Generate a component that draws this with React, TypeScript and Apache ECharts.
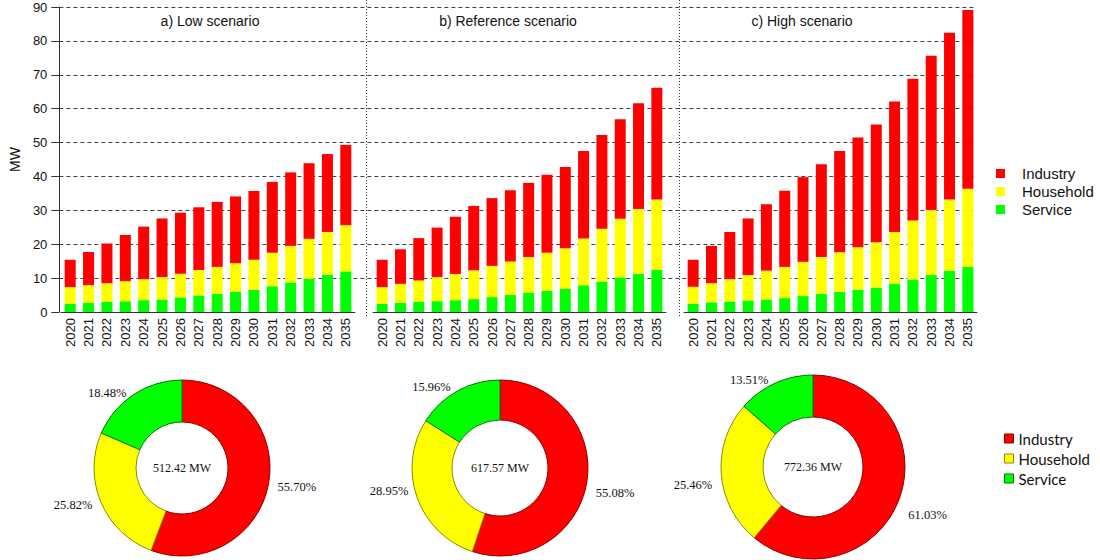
import React, { useEffect, useRef } from "react";
import * as echarts from "echarts";

const years = ["2020","2021","2022","2023","2024","2025","2026","2027","2028","2029","2030","2031","2032","2033","2034","2035"];

const lowService = [2.45,2.75,3.0,3.2,3.5,3.7,4.3,4.9,5.4,6.0,6.6,7.6,8.7,9.8,11.0,12.0];
const lowHousehold = [4.9,5.15,5.5,5.9,6.2,6.6,7.0,7.5,7.9,8.4,8.8,9.9,10.8,11.8,12.6,13.6];
const lowIndustry = [8.05,9.8,11.7,13.6,15.5,17.3,18.0,18.5,19.2,19.7,20.3,20.9,21.7,22.3,23.0,23.7];

const refService = [2.45,2.75,3.0,3.2,3.5,3.8,4.4,5.0,5.6,6.3,6.9,7.9,9.0,10.2,11.3,12.4];
const refHousehold = [4.9,5.55,6.3,7.1,7.7,8.5,9.2,9.9,10.6,11.2,11.9,13.8,15.6,17.3,19.1,20.8];
const refIndustry = [8.05,10.2,12.5,14.6,16.9,19.0,20.0,21.0,21.9,23.0,24.0,25.8,27.6,29.4,31.2,33.0];

const highService = [2.45,2.85,3.1,3.4,3.7,4.1,4.7,5.3,5.9,6.6,7.2,8.4,9.6,10.9,12.2,13.3];
const highHousehold = [5.0,5.65,6.6,7.5,8.5,9.2,10.1,10.9,11.7,12.5,13.4,15.2,17.4,19.2,21.0,23.1];
const highIndustry = [7.95,11.0,13.9,16.7,19.6,22.5,25.0,27.4,29.9,32.4,34.7,38.5,41.8,45.5,49.2,52.7];

const sectors = ["Industry", "Household", "Service"];
const pieLow = [55.70, 25.82, 18.48];
const pieRef = [55.08, 28.95, 15.96];
const pieHigh = [61.03, 25.46, 13.51];
const pieTotals = ["512.42 MW", "617.57 MW", "772.36 MW"];
const panelTitles = ["a) Low scenario", "b) Reference scenario", "c) High scenario"];

const COLORS: Record<string, string> = { Industry: "#ff0000", Household: "#ffff00", Service: "#00ff00" };
const BORDERS: Record<string, string> = { Industry: "#8a0000", Household: "#8a8a00", Service: "#007a00" };

const SANS = "Liberation Sans";
const SERIF = "Liberation Serif";

export default function App() {
  const ref = useRef<HTMLDivElement>(null);
  useEffect(() => {
    if (!ref.current) return;
    const chart = echarts.init(ref.current, undefined, { renderer: "svg" });

    const panels = [
      { s: lowService, h: lowHousehold, i: lowIndustry, left: 61, width: 294, tx: 210 },
      { s: refService, h: refHousehold, i: refIndustry, left: 373, width: 293, tx: 508 },
      { s: highService, h: highHousehold, i: highIndustry, left: 684, width: 293, tx: 802 },
    ];
    const pies = [
      { v: pieLow, cx: 182, cy: 468, r: [46, 88], dy: [3, 1, 2] },
      { v: pieRef, cx: 500, cy: 468, r: [48, 88], dy: [10, -8, 0] },
      { v: pieHigh, cx: 813, cy: 467, r: [50, 92], dy: [15, 11, 0] },
    ];

    const grids: any[] = [{ left: 52, top: 7, width: 924, height: 305 }];
    const xAxes: any[] = [{ type: "value", gridIndex: 0, show: false, min: 0, max: 1 }];
    const gridColors = ["transparent"];
    for (let k = 0; k < 9; k++) gridColors.push("#444");
    const yAxes: any[] = [{
      type: "value", gridIndex: 0, min: 0, max: 90, interval: 10,
      name: "MW", nameLocation: "middle", nameGap: 36,
      nameTextStyle: { fontFamily: SANS, fontSize: 14, color: "#111" },
      axisLine: { show: true, lineStyle: { color: "#333" } },
      axisTick: { show: true, length: 8, lineStyle: { color: "#333" } },
      axisLabel: { fontFamily: SANS, fontSize: 13, color: "#111", margin: 12 },
      splitLine: { show: true, lineStyle: { color: gridColors, type: [4, 3], width: 1 } },
    }];
    const series: any[] = [];
    const titles: any[] = [];

    panels.forEach((p, idx) => {
      grids.push({ left: p.left, top: 7, width: p.width, height: 305 });
      xAxes.push({
        type: "category", gridIndex: idx + 1, data: years,
        axisLine: { show: true, lineStyle: { color: "#333" } },
        axisTick: { show: false },
        axisLabel: { rotate: 90, fontFamily: SANS, fontSize: 13, color: "#111", margin: 6, interval: 0 },
      });
      yAxes.push({ type: "value", gridIndex: idx + 1, min: 0, max: 90, show: false, splitLine: { show: false } });
      const mk = (name: string, data: number[]) => ({
        type: "bar", name, data, stack: "p" + idx, xAxisIndex: idx + 1, yAxisIndex: idx + 1,
        barCategoryGap: "40%", itemStyle: { color: COLORS[name] }, silent: true,
      });
      series.push(mk("Service", p.s), mk("Household", p.h), mk("Industry", p.i));
      titles.push({
        text: panelTitles[idx], left: p.tx, top: 14, textAlign: "center", padding: 0,
        textStyle: { fontFamily: SANS, fontSize: 14, fontWeight: "normal", color: "#111" },
      });
    });

    pies.forEach((p, idx) => {
      series.push({
        type: "pie", center: [p.cx, p.cy], radius: p.r, startAngle: 90, clockwise: true,
        avoidLabelOverlap: false, silent: true,
        data: sectors.map((n, j) => ({
          name: n, value: p.v[j],
          itemStyle: { color: COLORS[n], borderColor: BORDERS[n], borderWidth: 1 },
        })),
        label: {
          position: "outside", formatter: (q: any) => q.value.toFixed(2) + "%",
          fontFamily: SERIF, fontSize: 12.5, color: "#111",
        },
        labelLine: { show: false, length: 4, length2: 0 },
        labelLayout: (q: any) => ({ dy: p.dy[q.dataIndex] }),
        emphasis: { disabled: true },
      });
      titles.push({
        text: pieTotals[idx], left: p.cx, top: p.cy - 6, textAlign: "center", padding: 0,
        textStyle: { fontFamily: SERIF, fontSize: 12, fontWeight: "normal", color: "#111" },
      });
    });

    chart.setOption({
      animation: false,
      backgroundColor: "#ffffff",
      title: titles,
      grid: grids,
      xAxis: xAxes,
      yAxis: yAxes,
      legend: [
        {
          orient: "vertical", left: 996, top: 166, padding: 0, icon: "rect", itemWidth: 9, itemHeight: 9, itemGap: 3,
          selectedMode: false,
          data: sectors.map((n) => ({ name: n, itemStyle: { color: COLORS[n], borderWidth: 0 } })),
          textStyle: { fontFamily: SANS, fontSize: 15, color: "#111", padding: [0, 0, 0, 12] },
        },
        {
          orient: "vertical", left: 1004, top: 431, padding: 0, icon: "rect", itemWidth: 9, itemHeight: 9, itemGap: 5,
          selectedMode: false,
          data: sectors.map((n) => ({ name: n, itemStyle: { color: COLORS[n], borderColor: BORDERS[n], borderWidth: 1 } })),
          textStyle: { fontFamily: "Lato", fontSize: 15, color: "#111" },
        },
      ],
      graphic: [
        { type: "line", shape: { x1: 366.5, y1: 0, x2: 366.5, y2: 316 }, style: { stroke: "#333", lineDash: [1, 2], lineWidth: 1 } },
        { type: "line", shape: { x1: 679.5, y1: 0, x2: 679.5, y2: 316 }, style: { stroke: "#333", lineDash: [1, 2], lineWidth: 1 } },
      ],
      series,
    });
    return () => chart.dispose();
  }, []);
  return (
    <div
      ref={ref}
      style={{ position: "fixed", left: 0, top: 0, width: 1100, height: 560, background: "#fff" }}
    />
  );
}
